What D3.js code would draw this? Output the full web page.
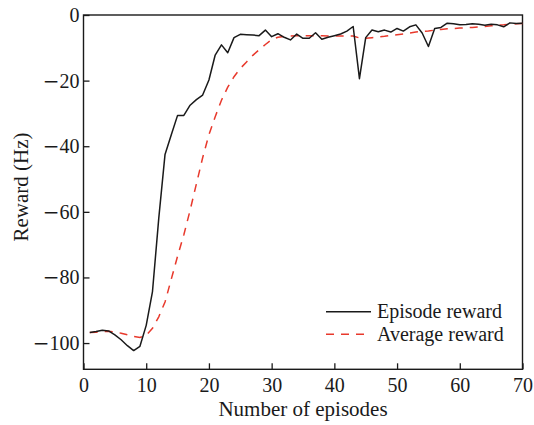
<!DOCTYPE html>
<html>
<head>
<meta charset="utf-8">
<script src="https://cdn.jsdelivr.net/npm/d3@7"></script>
<style>
  html, body { margin: 0; padding: 0; background: #fff; }
  svg { display: block; }
  text { font-family: "Liberation Serif", "Times New Roman", serif; fill: #1a1a1a; }
</style>
</head>
<body>
<svg id="chart" width="534" height="425"></svg>
<script>
// Episode index 1..70
const episodes = d3.range(1, 71);

// Reward obtained in each episode (Hz)
const episodeReward = [
  -96.8, -96.5, -96.1, -96.3, -97.5, -99.0, -100.8, -102.3, -101.0, -94.6,
  -84.3, -62.0, -42.5, -36.5, -30.6, -30.6, -27.5, -25.8, -24.4, -19.8,
  -12.2, -9.1, -11.5, -6.9, -5.9, -6.0, -6.1, -6.3, -4.6, -6.6,
  -5.7, -6.8, -7.6, -5.8, -7.1, -7.1, -5.4, -7.4, -6.8, -6.3,
  -5.8, -4.9, -3.5, -19.4, -6.9, -4.6, -5.1, -4.6, -5.2, -4.1,
  -4.9, -3.6, -3.0, -5.5, -9.6, -4.1, -3.8, -2.5, -2.7, -3.0,
  -2.9, -2.7, -2.8, -3.1, -2.8, -3.0, -3.6, -2.4, -2.6, -2.5
];

// Running average reward (Hz)
const averageReward = [
  -96.8, -96.7, -96.5, -96.4, -96.6, -97.0, -97.5, -98.0, -98.3, -97.6,
  -95.5, -92.0, -87.5, -80.5, -73.5, -67.0, -59.5, -51.5, -43.5, -36.5,
  -31.0, -26.0, -22.0, -18.8, -16.3, -14.3, -12.3, -10.6, -9.0, -7.5,
  -6.8, -6.5, -6.4, -6.3, -6.3, -6.3, -6.3, -6.3, -6.4, -6.4,
  -6.4, -6.4, -6.4, -7.0, -7.1, -6.9, -6.7, -6.5, -6.2, -6.0,
  -5.8, -5.5, -5.2, -5.0, -4.9, -4.6, -4.4, -4.2, -4.1, -4.0,
  -3.9, -3.8, -3.6, -3.5, -3.3, -3.1, -3.0, -2.8, -2.7, -2.6
];

const xTicks = [0, 10, 20, 30, 40, 50, 60, 70];
const yTicks = [0, -20, -40, -60, -80, -100];

const seriesNames = ["Episode reward", "Average reward"];
const seriesColors = ["#1a1a1a", "#e8392c"];

const svg = d3.select("#chart");
const plotLeft = 83.5, plotRight = 522.5, plotTop = 15, plotBottom = 369.3;

const x = d3.scaleLinear().domain([0, 70]).range([plotLeft, plotRight]);
const y = d3.scaleLinear().domain([-108, 0]).range([plotBottom, plotTop]);

// Axes with inward ticks
const xAxis = d3.axisBottom(x).tickValues(xTicks).tickSizeInner(-6).tickSizeOuter(0).tickPadding(9);
const yAxis = d3.axisLeft(y).tickValues(yTicks).tickSizeInner(-6).tickSizeOuter(0).tickPadding(4);

const gx = svg.append("g").attr("transform", `translate(0,${plotBottom})`).call(xAxis);
const gy = svg.append("g").attr("transform", `translate(${plotLeft},0)`).call(yAxis);

[gx, gy].forEach(g => {
  g.select(".domain").remove();
  g.selectAll(".tick line").attr("stroke", "#1a1a1a").attr("stroke-width", 1.3);
  g.selectAll(".tick text")
    .attr("font-size", 20)
    .attr("font-family", "Liberation Serif")
    .attr("fill", "#1a1a1a")
    .each(function(d) {
      // wide minus sign drawn in a sans face, digits in serif
      const t = d3.select(this).text("");
      if (d < 0) t.append("tspan").attr("font-family", "DejaVu Sans").text("\u2212");
      t.append("tspan").text(Math.abs(d));
    });
});

// Frame
svg.append("rect")
  .attr("x", plotLeft).attr("y", plotTop)
  .attr("width", plotRight - plotLeft).attr("height", plotBottom - plotTop)
  .attr("fill", "none").attr("stroke", "#1a1a1a").attr("stroke-width", 1.4);

const line = d3.line().x((d, i) => x(episodes[i])).y(d => y(d));

svg.append("path")
  .datum(averageReward)
  .attr("d", line)
  .attr("fill", "none")
  .attr("stroke", seriesColors[1])
  .attr("stroke-width", 1.5)
  .attr("stroke-dasharray", "8,7");

svg.append("path")
  .datum(episodeReward)
  .attr("d", line)
  .attr("fill", "none")
  .attr("stroke", seriesColors[0])
  .attr("stroke-width", 1.5)
  .attr("stroke-linejoin", "round");

// Legend
const legend = svg.append("g");
seriesNames.forEach((name, i) => {
  const ly = 311.7 + i * 22.6;
  legend.append("line")
    .attr("x1", 326).attr("x2", 371).attr("y1", ly).attr("y2", ly)
    .attr("stroke", seriesColors[i]).attr("stroke-width", 1.5)
    .attr("stroke-dasharray", i === 1 ? "8,7" : null);
  legend.append("text")
    .attr("x", 377).attr("y", ly + 6.5)
    .attr("font-size", 20)
    .text(name);
});

// Axis titles
svg.append("text")
  .attr("x", (plotLeft + plotRight) / 2).attr("y", 416)
  .attr("text-anchor", "middle").attr("font-size", 21)
  .text("Number of episodes");

svg.append("text")
  .attr("transform", "translate(28,187) rotate(-90)")
  .attr("text-anchor", "middle").attr("font-size", 21)
  .text("Reward (Hz)");
</script>
</body>
</html>
